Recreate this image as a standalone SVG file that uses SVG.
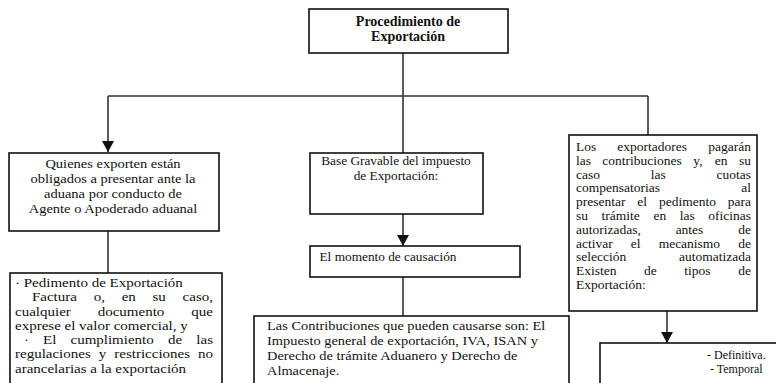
<svg xmlns="http://www.w3.org/2000/svg" width="776" height="383" viewBox="0 0 776 383">
  <style>
    .box{fill:#fff;stroke:#111;stroke-width:1.6}
    .ln{fill:none;stroke:#333;stroke-width:1.6}
    text{font-family:"Liberation Serif","Times New Roman",serif;fill:#111}
    .c{text-anchor:middle}
    .e{text-anchor:end}
    .b{font-weight:bold}
  </style>
  <defs>
    <marker id="arrow" markerUnits="userSpaceOnUse" markerWidth="12" markerHeight="12" refX="11" refY="6" orient="auto">
      <path d="M0,0 L11,6 L0,12 Z" fill="#111"/>
    </marker>
  </defs>

  <!-- connectors -->
  <g id="connectors">
    <path class="ln" d="M403,53 V153"/>
    <path class="ln" d="M108,96 H648"/>
    <path class="ln" d="M108,96 V152" marker-end="url(#arrow)"/>
    <path class="ln" d="M648,96 V135"/>
    <path class="ln" d="M108,231 V273"/>
    <path class="ln" d="M403,214 V246" marker-end="url(#arrow)"/>
    <path class="ln" d="M403,277 V316"/>
    <path class="ln" d="M667,311 V343" marker-end="url(#arrow)"/>
  </g>

  <!-- root -->
  <g id="procedimiento" font-size="14">
    <rect class="box" x="309" y="9" width="199" height="44"/>
    <text class="c b" x="408" y="26">Procedimiento de</text>
    <text class="c b" x="408" y="41">Exportación</text>
  </g>

  <!-- left branch; the text is set slightly wide, as in the printed form -->
  <g id="quienes" font-size="13.5">
    <rect class="box" x="9" y="153" width="210" height="78"/>
    <g transform="matrix(1.074,0,0,1,-8.362,0)">
      <text class="c" x="113" y="168">Quienes exporten están</text>
      <text class="c" x="113" y="183">obligados a presentar ante la</text>
      <text class="c" x="113" y="198">aduana por conducto de</text>
      <text class="c" x="113" y="213">Agente o Apoderado aduanal</text>
    </g>
  </g>

  <g id="documentos" font-size="12.9">
    <rect class="box" x="10" y="273" width="212" height="130"/>
    <g transform="matrix(1.163,0,0,1,-2.445,0)">
      <text x="15" y="287">· Pedimento de Exportación</text>
      <text y="301.3"><tspan x="29.6">Factura</tspan><tspan x="82.7">o,</tspan><tspan x="106.7">en</tspan><tspan x="133.2">su</tspan><tspan x="185.25" class="e">caso,</tspan></text>
      <text y="315.6"><tspan x="15">cualquier</tspan><tspan x="86.1">documento</tspan><tspan x="185.25" class="e">que</tspan></text>
      <text x="15" y="329.9">exprese el valor comercial, y</text>
      <text y="344.2"><tspan x="22.7">·</tspan><tspan x="39.1">El</tspan><tspan x="62.7">cumplimiento</tspan><tspan x="146.6">de</tspan><tspan x="185.25" class="e">las</tspan></text>
      <text y="358.5"><tspan x="15">regulaciones</tspan><tspan x="87">y</tspan><tspan x="100.4">restricciones</tspan><tspan x="185.25" class="e">no</tspan></text>
      <text x="15" y="372.8">arancelarias a la exportación</text>
    </g>
  </g>

  <!-- centre branch -->
  <g id="base-gravable" font-size="13.3">
    <rect class="box" x="310" y="153" width="173" height="61"/>
    <text class="c" x="396" y="165">Base Gravable del impuesto</text>
    <text class="c" x="396" y="180">de Exportación:</text>
  </g>

  <g id="momento" font-size="13.3">
    <rect class="box" x="310" y="246" width="210" height="31"/>
    <text class="c" x="388" y="261">El momento de causación</text>
  </g>

  <g id="contribuciones" font-size="13.3">
    <rect class="box" x="254" y="316" width="315" height="90"/>
    <g transform="matrix(1.083,0,0,1,-22.161,0)">
      <text x="267" y="330.5">Las Contribuciones que pueden causarse son: El</text>
      <text x="267" y="345.3">Impuesto general de exportación, IVA, ISAN y</text>
      <text x="267" y="360">Derecho de trámite Aduanero y Derecho de</text>
      <text x="267" y="374.8">Almacenaje.</text>
    </g>
  </g>

  <!-- right branch -->
  <g id="exportadores" font-size="12.4">
    <rect class="box" x="569" y="135" width="188" height="176"/>
    <g transform="matrix(1.089,0,0,1,-51.264,0)">
      <text y="151"><tspan x="576">Los</tspan><tspan x="614">exportadores</tspan><tspan x="736.7" class="e">pagarán</tspan></text>
      <text y="164.8"><tspan x="576">las</tspan><tspan x="600.2">contribuciones</tspan><tspan x="683.7">y,</tspan><tspan x="703.5">en</tspan><tspan x="736.7" class="e">su</tspan></text>
      <text y="178.6"><tspan x="576">caso</tspan><tspan x="644.6">las</tspan><tspan x="736.7" class="e">cuotas</tspan></text>
      <text y="192.4"><tspan x="576">compensatorias</tspan><tspan x="736.7" class="e">al</tspan></text>
      <text y="206.2"><tspan x="576">presentar</tspan><tspan x="632.3">el</tspan><tspan x="652.2">pedimento</tspan><tspan x="736.7" class="e">para</tspan></text>
      <text y="220"><tspan x="576">su</tspan><tspan x="599.5">trámite</tspan><tspan x="647.1">en</tspan><tspan x="671.3">las</tspan><tspan x="736.7" class="e">oficinas</tspan></text>
      <text y="233.8"><tspan x="576">autorizadas,</tspan><tspan x="667.5">antes</tspan><tspan x="736.7" class="e">de</tspan></text>
      <text y="247.6"><tspan x="576">activar</tspan><tspan x="626.3">el</tspan><tspan x="651.9">mecanismo</tspan><tspan x="736.7" class="e">de</tspan></text>
      <text y="261.4"><tspan x="576">selección</tspan><tspan x="736.7" class="e">automatizada</tspan></text>
      <text y="275.2"><tspan x="576">Existen</tspan><tspan x="638.5">de</tspan><tspan x="675.5">tipos</tspan><tspan x="736.7" class="e">de</tspan></text>
      <text x="576" y="289">Exportación:</text>
    </g>
  </g>

  <g id="tipos" font-size="12">
    <rect class="box" x="600" y="343" width="200" height="60"/>
    <text x="707" y="359">- Definitiva.</text>
    <text x="710" y="372.5">- Temporal</text>
  </g>
</svg>
